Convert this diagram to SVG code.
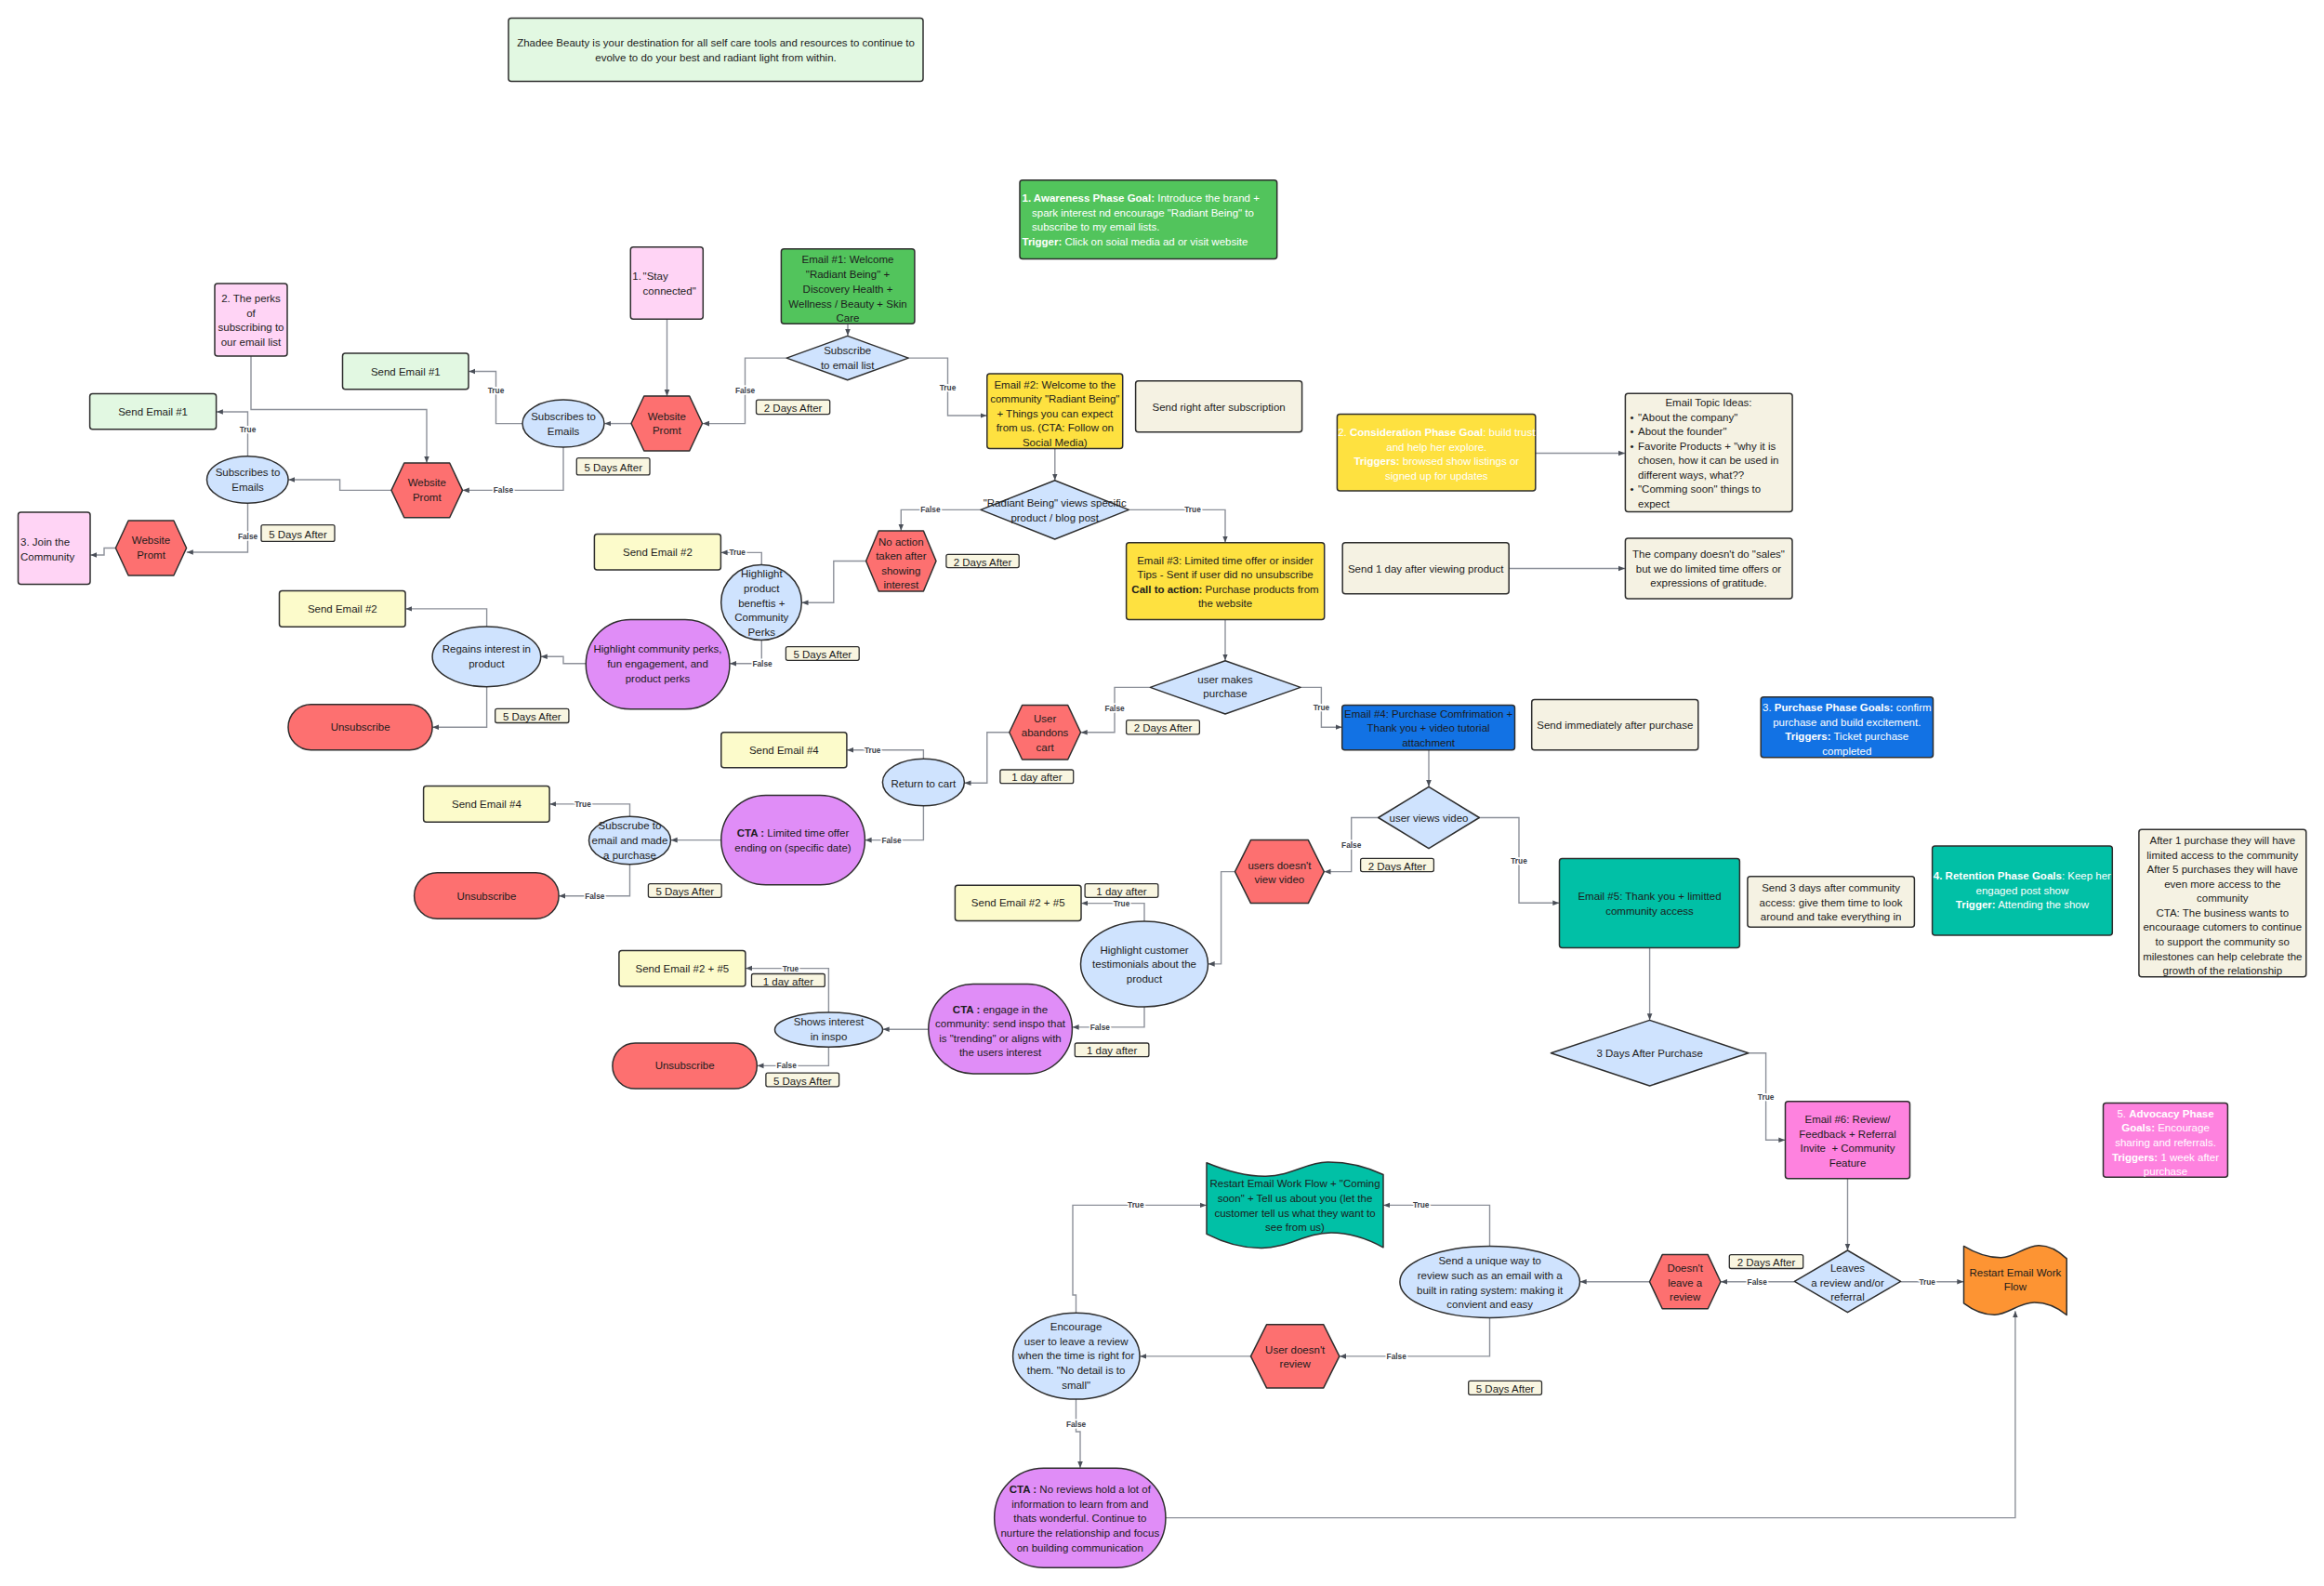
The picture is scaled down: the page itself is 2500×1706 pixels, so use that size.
<svg xmlns="http://www.w3.org/2000/svg" width="2500" height="1706" viewBox="0 0 2500 1706">
<defs>
<style>
.t{font-family:"Liberation Sans",Arial,sans-serif;font-size:11.5px;fill:#1c1c1c;dominant-baseline:central;text-anchor:middle}
.tl{text-anchor:start}
.w{fill:#ffffff}
.bd{font-weight:bold}
.s{stroke:#2e2e2e;stroke-width:1.5;stroke-linejoin:round}
.lg{fill:#e2f8e2}.pk{fill:#ffd4f5}.gr{fill:#52c45c}.yl{fill:#fee140}.rd{fill:#fd7070}.bl{fill:#cfe3fe}
.pu{fill:#e08df7}.nb{fill:#1272e4}.tl2{fill:#01c0a6}.mg{fill:#fe82df}.or{fill:#fd9433}.ly{fill:#fcfbcb}.cr{fill:#f5f2e3}
.c{fill:none;stroke:#8d919a;stroke-width:1.4;marker-end:url(#arr)}
.lb{font-family:"Liberation Sans",Arial,sans-serif;font-size:8.3px;font-weight:bold;fill:#3b4048;text-anchor:middle;dominant-baseline:central;paint-order:stroke;stroke:#ffffff;stroke-width:3px}
.tg{fill:#f9f6e1;stroke:#2e2e2e;stroke-width:1.3}
</style>
<marker id="arr" viewBox="0 0 10 10" refX="10" refY="5" markerWidth="7" markerHeight="7" markerUnits="userSpaceOnUse" orient="auto"><path d="M0,1 L10,5 L0,9 z" fill="#4a4f58"/></marker>
</defs>
<rect width="2500" height="1706" fill="#ffffff"/>

<g id="connectors">
<path class="c" d="M912,348.3 V361"/>
<path class="c" d="M846.2,385.1 H801.5 V455.6 H756"/>
<path class="c" d="M977.2,385.1 H1019.5 V447 H1061.5"/>
<path class="c" d="M717.5,343.5 V426"/>
<path class="c" d="M679,455.6 H650.3"/>
<path class="c" d="M562,455.6 H533.5 V399.5 H504.3"/>
<path class="c" d="M606,481 V527.4 H497.8"/>
<path class="c" d="M270,383 V440.5 H459 V497.8"/>
<path class="c" d="M421,527.4 H365.6 V516 H310.3"/>
<path class="c" d="M266.5,490.7 V443 H232.9"/>
<path class="c" d="M266.5,541.2 V594 H200.8"/>
<path class="c" d="M124.4,589.5 H112 V597 H97.3"/>
<path class="c" d="M1134.8,482.4 V516.6"/>
<path class="c" d="M1055,548.4 H969.3 V570.8"/>
<path class="c" d="M1214.3,548.4 H1318 V583.6"/>
<path class="c" d="M1651.8,487.5 H1748"/>
<path class="c" d="M1623.2,611.5 H1748"/>
<path class="c" d="M931.6,603.5 H896.8 V648.2 H862.5"/>
<path class="c" d="M819.3,607.5 V594.4 H775.6"/>
<path class="c" d="M819.3,688.5 V713.8 H785.1"/>
<path class="c" d="M630.3,713.8 H606 V706.3 H581.8"/>
<path class="c" d="M523.6,673.9 V654.9 H436.3"/>
<path class="c" d="M523.6,738.7 V782.2 H465.3"/>
<path class="c" d="M1318,666.4 V710.5"/>
<path class="c" d="M1237.3,739.4 H1199 V787.8 H1162.7"/>
<path class="c" d="M1399,739.4 H1421.4 V782.2 H1443.5"/>
<path class="c" d="M1085.8,787.8 H1061.8 V842.3 H1037.5"/>
<path class="c" d="M993.4,816.2 V806.7 H911.1"/>
<path class="c" d="M993.4,866.8 V903.6 H930.6"/>
<path class="c" d="M775.8,903.6 H721.7"/>
<path class="c" d="M677.5,878.3 V864.9 H591.3"/>
<path class="c" d="M677.5,929.7 V963.7 H601.3"/>
<path class="c" d="M1537,806.8 V846.1"/>
<path class="c" d="M1482.7,879.5 H1453.7 V937.6 H1424.5"/>
<path class="c" d="M1591.3,879.5 H1634 V971.3 H1677.3"/>
<path class="c" d="M1328.5,937.6 H1313.6 V1036.9 H1299.7"/>
<path class="c" d="M1231,991 V971.6 H1163.2"/>
<path class="c" d="M1231,1083 V1104.9 H1153.6"/>
<path class="c" d="M998.8,1107.2 H949.7"/>
<path class="c" d="M891.4,1089 V1041.6 H802.1"/>
<path class="c" d="M891.4,1126.2 V1146.4 H814.5"/>
<path class="c" d="M1774.6,1019.5 V1097.2"/>
<path class="c" d="M1880.8,1132.7 H1899.6 V1226.3 H1920.3"/>
<path class="c" d="M1987.5,1267.8 V1344.8"/>
<path class="c" d="M1930.4,1378.7 H1851.1"/>
<path class="c" d="M2044.6,1378.7 H2112.3"/>
<path class="c" d="M1774.5,1378.7 H1699.7"/>
<path class="c" d="M1602.5,1340.4 V1296.4 H1488.2"/>
<path class="c" d="M1602.5,1417.4 V1458.9 H1441"/>
<path class="c" d="M1345.5,1458.9 H1226.2"/>
<path class="c" d="M1157.5,1412.3 V1393 H1154 V1296.4 H1297.8"/>
<path class="c" d="M1157.5,1505 V1540 H1162 V1579"/>
<path class="c" d="M1253.9,1632.6 H2167.9 V1410.2"/>
<text class="lb" x="801.5" y="420">False</text>
<text class="lb" x="1019.5" y="417">True</text>
<text class="lb" x="533.5" y="419.5">True</text>
<text class="lb" x="541.4" y="527.4">False</text>
<text class="lb" x="266.5" y="462">True</text>
<text class="lb" x="266.5" y="577">False</text>
<text class="lb" x="1000.9" y="548.4">False</text>
<text class="lb" x="1283" y="548.4">True</text>
<text class="lb" x="793.2" y="594.4">True</text>
<text class="lb" x="820" y="713.8">False</text>
<text class="lb" x="1199" y="762">False</text>
<text class="lb" x="1421.4" y="761">True</text>
<text class="lb" x="938.7" y="806.7">True</text>
<text class="lb" x="959" y="903.6">False</text>
<text class="lb" x="627" y="864.9">True</text>
<text class="lb" x="639.8" y="963.7">False</text>
<text class="lb" x="1453.7" y="908.8">False</text>
<text class="lb" x="1634" y="925.8">True</text>
<text class="lb" x="1206.5" y="971.6">True</text>
<text class="lb" x="1183.3" y="1104.9">False</text>
<text class="lb" x="850.4" y="1041.6">True</text>
<text class="lb" x="846.2" y="1146.4">False</text>
<text class="lb" x="1899.6" y="1179.6">True</text>
<text class="lb" x="1890.2" y="1378.7">False</text>
<text class="lb" x="2073.2" y="1378.7">True</text>
<text class="lb" x="1528.7" y="1296.4">True</text>
<text class="lb" x="1502.2" y="1458.9">False</text>
<text class="lb" x="1221.8" y="1296.4">True</text>
<text class="lb" x="1157.5" y="1531.7">False</text>
</g>

<g id="n-intro"><rect class="s lg" x="547" y="19.5" width="446" height="68" rx="3"/>
<text class="t" x="770" y="46.3">Zhadee Beauty is your destination for all self care tools and resources to continue to</text>
<text class="t" x="770" y="62.1">evolve to do your best and radiant light from within.</text></g>

<g id="n-perks"><rect class="s pk" x="231" y="305" width="78" height="78" rx="3"/>
<text class="t" x="270" y="321">2. The perks</text><text class="t" x="270" y="337">of</text><text class="t" x="270" y="352">subscribing to</text><text class="t" x="270" y="368">our email list</text></g>

<g id="n-stay"><rect class="s pk" x="678.3" y="265.7" width="78" height="77.5" rx="3"/>
<text class="t tl" x="680.3" y="297.3">1.</text><text class="t tl" x="691.6" y="297.3">"Stay</text><text class="t tl" x="691.6" y="313">connected"</text></g>

<g id="n-join"><rect class="s pk" x="19.5" y="551" width="77.5" height="77.5" rx="3"/>
<text class="t tl" x="22" y="583">3. Join the</text><text class="t tl" x="22" y="598.6">Community</text></g>

<g id="n-send1a"><rect class="s lg" x="96.6" y="423.5" width="136" height="38.3" rx="3"/><text class="t" x="164.6" y="443">Send Email #1</text></g>
<g id="n-send1b"><rect class="s lg" x="368.5" y="380" width="135.5" height="38.7" rx="3"/><text class="t" x="436.3" y="399.5">Send Email #1</text></g>

<g id="n-subsA"><ellipse class="s bl" cx="266.3" cy="516" rx="43.8" ry="25.2"/><text class="t" x="266.5" y="508.2">Subscribes to</text><text class="t" x="266.5" y="524">Emails</text></g>
<g id="n-subsB"><ellipse class="s bl" cx="606" cy="455.6" rx="44" ry="25.5"/><text class="t" x="606" y="448">Subscribes to</text><text class="t" x="606" y="463.8">Emails</text></g>

<g id="n-promtA"><polygon class="s rd" points="679,455.5 692.8,426 741.7,426 755.5,455.5 741.7,485 692.8,485"/><text class="t" x="717.3" y="447.6">Website</text><text class="t" x="717.3" y="463.4">Promt</text></g>
<g id="n-promtB"><polygon class="s rd" points="421,527.4 434.8,498 483.7,498 497.5,527.4 483.7,556.7 434.8,556.7"/><text class="t" x="459.3" y="519.2">Website</text><text class="t" x="459.3" y="535">Promt</text></g>
<g id="n-promtC"><polygon class="s rd" points="124.4,589.5 138.1,560 186.9,560 200.6,589.5 186.9,619 138.1,619"/><text class="t" x="162.5" y="581.2">Website</text><text class="t" x="162.5" y="597">Promt</text></g>

<g id="n-email1"><rect class="s gr" x="840.4" y="267.7" width="143.5" height="80.6" rx="3"/>
<text class="t" x="912" y="279">Email #1: Welcome</text><text class="t" x="912" y="295">"Radiant Being" +</text><text class="t" x="912" y="310.8">Discovery Health +</text><text class="t" x="912" y="326.6">Wellness / Beauty + Skin</text><text class="t" x="912" y="342">Care</text></g>

<g id="n-subscribe"><polygon class="s bl" points="846.2,385.1 911.7,361.4 977.2,385.1 911.7,408.8"/><text class="t" x="911.7" y="376.8">Subscribe</text><text class="t" x="911.7" y="392.6">to email list</text></g>

<g id="n-aware"><rect class="s gr" x="1097" y="193.7" width="276.7" height="84.7" rx="3"/>
<text class="t tl w" x="1099.5" y="213"><tspan class="bd">1. Awareness Phase Goal:</tspan> Introduce the brand +</text>
<text class="t tl w" x="1110" y="228.5">spark interest nd encourage "Radiant Being" to</text>
<text class="t tl w" x="1110" y="244">subscribe to my email lists.</text>
<text class="t tl w" x="1099.5" y="259.8"><tspan class="bd">Trigger:</tspan> Click on soial media ad or visit website</text></g>

<g id="n-email2"><rect class="s yl" x="1061.8" y="402" width="145.9" height="80.4" rx="3"/>
<text class="t" x="1134.8" y="413.6">Email #2: Welcome to the</text><text class="t" x="1134.8" y="429.4">community "Radiant Being"</text><text class="t" x="1134.8" y="444.8">+ Things you can expect</text><text class="t" x="1134.8" y="460.3">from us. (CTA: Follow on</text><text class="t" x="1134.8" y="476">Social Media)</text></g>

<g id="n-note-sub"><rect class="s cr" x="1221.6" y="409.8" width="179" height="54.9" rx="3"/><text class="t" x="1311.1" y="437.5">Send right after subscription</text></g>

<g id="n-radiant"><polygon class="s bl" points="1055,548.4 1134.7,516.8 1214.3,548.4 1134.7,580"/><text class="t" x="1134.7" y="540.9">"Radiant Being" views specific</text><text class="t" x="1134.7" y="556.7">product / blog post</text></g>

<g id="n-noaction"><polygon class="s rd" points="931.6,603.5 945.2,571 993.4,571 1007,603.5 993.4,636 945.2,636"/>
<text class="t" x="969.3" y="582.5">No action</text><text class="t" x="969.3" y="598.4">taken after</text><text class="t" x="969.3" y="613.8">showing</text><text class="t" x="969.3" y="629.2">interest</text></g>

<g id="n-consider"><rect class="s yl" x="1438.4" y="445.4" width="213.4" height="82.6" rx="3"/>
<text class="t w" x="1545.3" y="464.7">2. <tspan class="bd">Consideration Phase Goal</tspan>: build trust</text>
<text class="t w" x="1545.3" y="480.6">and help her explore.</text>
<text class="t w" x="1545.3" y="496"><tspan class="bd">Triggers:</tspan> browsed show listings or</text>
<text class="t w" x="1545.3" y="511.8">signed up for updates</text></g>

<g id="n-topics"><rect class="s cr" x="1748.4" y="423.2" width="179.7" height="127.3" rx="3"/>
<text class="t" x="1838" y="432.7">Email Topic Ideas:</text>
<text class="t tl" x="1753.5" y="448.5">•</text><text class="t tl" x="1762" y="448.5">"About the company"</text>
<text class="t tl" x="1753.5" y="464">•</text><text class="t tl" x="1762" y="464">About the founder"</text>
<text class="t tl" x="1753.5" y="479.8">•</text><text class="t tl" x="1762" y="479.8">Favorite Products + "why it is</text>
<text class="t tl" x="1762" y="495.2">chosen, how it can be used in</text>
<text class="t tl" x="1762" y="511">different ways, what??</text>
<text class="t tl" x="1753.5" y="526.4">•</text><text class="t tl" x="1762" y="526.4">"Comming soon" things to</text>
<text class="t tl" x="1762" y="542.2">expect</text></g>

<g id="n-email3"><rect class="s yl" x="1211.6" y="583.8" width="213.1" height="82.6" rx="3"/>
<text class="t" x="1318" y="602.7">Email #3: Limited time offer or insider</text>
<text class="t" x="1318" y="618.2">Tips - Sent if user did no unsubscribe</text>
<text class="t" x="1318" y="634"><tspan class="bd">Call to action:</tspan> Purchase products from</text>
<text class="t" x="1318" y="649.4">the website</text></g>

<g id="n-note-1day"><rect class="s cr" x="1444.2" y="583.8" width="179" height="54.9" rx="3"/><text class="t" x="1533.7" y="611.8">Send 1 day after viewing product</text></g>

<g id="n-company"><rect class="s cr" x="1748.4" y="579" width="179.6" height="64.9" rx="3"/>
<text class="t" x="1838" y="596">The company doesn't do "sales"</text><text class="t" x="1838" y="611.5">but we do limited time offers or</text><text class="t" x="1838" y="627.3">expressions of gratitude.</text></g>

<g id="n-send2a"><rect class="s ly" x="639.4" y="574.6" width="136" height="38.4" rx="3"/><text class="t" x="707.4" y="593.8">Send Email #2</text></g>
<g id="n-highlight"><ellipse class="s bl" cx="819" cy="648" rx="43.3" ry="40.5"/>
<text class="t" x="819.3" y="617.3">Highlight</text><text class="t" x="819.3" y="633.2">product</text><text class="t" x="819.3" y="648.6">beneftis +</text><text class="t" x="819.3" y="664.4">Community</text><text class="t" x="819.3" y="679.8">Perks</text></g>

<g id="n-perksP"><rect class="s pu" x="630.3" y="666.4" width="154.6" height="96.4" rx="48"/>
<text class="t" x="707.5" y="698.4">Highlight community perks,</text><text class="t" x="707.5" y="714.2">fun engagement, and</text><text class="t" x="707.5" y="729.6">product perks</text></g>

<g id="n-send2b"><rect class="s ly" x="300.5" y="635.5" width="135.6" height="38.8" rx="3"/><text class="t" x="368.3" y="655">Send Email #2</text></g>
<g id="n-regains"><ellipse class="s bl" cx="523.4" cy="706.3" rx="58.3" ry="32.4"/><text class="t" x="523.4" y="698.4">Regains interest in</text><text class="t" x="523.4" y="714.2">product</text></g>
<g id="n-unsub1"><rect class="s rd" x="310" y="757.7" width="155.1" height="49" rx="24.5"/><text class="t" x="387.6" y="782.2">Unsubscribe</text></g>

<g id="n-purchase"><polygon class="s bl" points="1237.3,739.4 1318,710.7 1399,739.4 1318,768"/><text class="t" x="1318" y="730.8">user makes</text><text class="t" x="1318" y="746.3">purchase</text></g>

<g id="n-abandon"><polygon class="s rd" points="1085.8,787.8 1099.6,758.5 1148.7,758.5 1162.5,787.8 1148.7,817 1099.6,817"/>
<text class="t" x="1124.1" y="772.7">User</text><text class="t" x="1124.1" y="788.2">abandons</text><text class="t" x="1124.1" y="804">cart</text></g>

<g id="n-return"><ellipse class="s bl" cx="993.4" cy="841.5" rx="44" ry="25.3"/><text class="t" x="993.4" y="843">Return to cart</text></g>
<g id="n-send4a"><rect class="s ly" x="775.8" y="787.8" width="135.1" height="37.9" rx="3"/><text class="t" x="843.3" y="806.7">Send Email #4</text></g>

<g id="n-ctaLimited"><rect class="s pu" x="775.8" y="855.4" width="154.6" height="96.4" rx="48"/>
<text class="t" x="853" y="896.1"><tspan class="bd">CTA :</tspan> Limited time offer</text><text class="t" x="853" y="911.9">ending on (specific date)</text></g>

<g id="n-subPurch"><ellipse class="s bl" cx="677.5" cy="904" rx="44" ry="25.7"/>
<text class="t" x="677.5" y="888.2">Subscrube to</text><text class="t" x="677.5" y="904">email and made</text><text class="t" x="677.5" y="919.8">a purchase</text></g>

<g id="n-send4b"><rect class="s ly" x="455.6" y="845.5" width="135.5" height="38.7" rx="3"/><text class="t" x="523.4" y="864.9">Send Email #4</text></g>
<g id="n-unsub2"><rect class="s rd" x="445.6" y="938.8" width="155.5" height="49.4" rx="24.7"/><text class="t" x="523.4" y="963.5">Unsubscribe</text></g>

<g id="n-email4"><rect class="s nb" x="1443.7" y="758.5" width="185.8" height="48.3" rx="3"/>
<text class="t" x="1536.6" y="767.6">Email #4: Purchase Comfrimation +</text><text class="t" x="1536.6" y="783.4">Thank you + video tutorial</text><text class="t" x="1536.6" y="798.9">attachment</text></g>

<g id="n-note-imm"><rect class="s cr" x="1647.7" y="752.6" width="179.1" height="54.2" rx="3"/><text class="t" x="1737.3" y="780.3">Send immediately after purchase</text></g>

<g id="n-purchGoal"><rect class="s nb" x="1894.2" y="749.8" width="185.3" height="64.9" rx="3"/>
<text class="t w" x="1986.8" y="760.9">3. <tspan class="bd">Purchase Phase Goals:</tspan> confirm</text>
<text class="t w" x="1986.8" y="776.7">purchase and build excitement.</text>
<text class="t w" x="1986.8" y="792.1"><tspan class="bd">Triggers:</tspan> Ticket purchase</text>
<text class="t w" x="1986.8" y="808">completed</text></g>

<g id="n-video"><polygon class="s bl" points="1482.7,879.5 1537,846.3 1591.3,879.5 1537,912.7"/><text class="t" x="1537" y="880.3">user views video</text></g>

<g id="n-noVideo"><polygon class="s rd" points="1328.5,937.6 1345.5,903.6 1407.3,903.6 1424.3,937.6 1407.3,971.6 1345.5,971.6"/>
<text class="t" x="1376.4" y="931">users doesn't</text><text class="t" x="1376.4" y="946.3">view video</text></g>

<g id="n-email5"><rect class="s tl2" x="1677.5" y="923.4" width="193.9" height="96.1" rx="3"/>
<text class="t" x="1774.5" y="964.1">Email #5: Thank you + limitted</text><text class="t" x="1774.5" y="980">community access</text></g>

<g id="n-note-3days"><rect class="s cr" x="1879.9" y="942.8" width="179.5" height="54.5" rx="3"/>
<text class="t" x="1969.6" y="955">Send 3 days after community</text><text class="t" x="1969.6" y="970.5">access: give them time to look</text><text class="t" x="1969.6" y="986.3">around and take everything in</text></g>

<g id="n-retention"><rect class="s tl2" x="2078.6" y="910" width="193.7" height="96" rx="3"/>
<text class="t w" x="2175.4" y="942"><tspan class="bd">4. Retention Phase Goals</tspan>: Keep her</text>
<text class="t w" x="2175.4" y="957.8">engaged post show</text>
<text class="t w" x="2175.4" y="973.2"><tspan class="bd">Trigger:</tspan> Attending the show</text></g>

<g id="n-after1"><rect class="s cr" x="2300.9" y="892.2" width="179.9" height="158.5" rx="3"/>
<text class="t" x="2390.8" y="903.6">After 1 purchase they will have</text>
<text class="t" x="2390.8" y="919.5">limited access to the community</text>
<text class="t" x="2390.8" y="934.9">After 5 purchases they will have</text>
<text class="t" x="2390.8" y="950.7">even more access to the</text>
<text class="t" x="2390.8" y="966.1">community</text>
<text class="t" x="2390.8" y="981.9">CTA: The business wants to</text>
<text class="t" x="2390.8" y="997.4">encouraage cutomers to continue</text>
<text class="t" x="2390.8" y="1013.2">to support the community so</text>
<text class="t" x="2390.8" y="1029">milestones can help celebrate the</text>
<text class="t" x="2390.8" y="1044.4">growth of the relationship</text></g>

<g id="n-send25a"><rect class="s ly" x="1027.4" y="952.2" width="135.6" height="38.4" rx="3"/><text class="t" x="1095.2" y="971.4">Send Email #2 + #5</text></g>
<g id="n-testimonials"><ellipse class="s bl" cx="1231" cy="1037" rx="68.5" ry="46"/>
<text class="t" x="1231" y="1021.9">Highlight customer</text><text class="t" x="1231" y="1037.3">testimonials about the</text><text class="t" x="1231" y="1053.1">product</text></g>

<g id="n-ctaEngage"><rect class="s pu" x="998.8" y="1058.6" width="154.6" height="96.4" rx="48"/>
<text class="t" x="1076" y="1085.5"><tspan class="bd">CTA :</tspan> engage in the</text>
<text class="t" x="1076" y="1100.9">community: send inspo that</text>
<text class="t" x="1076" y="1116.7">is "trending" or aligns with</text>
<text class="t" x="1076" y="1132.2">the users interest</text></g>

<g id="n-inspo"><ellipse class="s bl" cx="891.5" cy="1107.6" rx="58" ry="18.6"/><text class="t" x="891.5" y="1099.3">Shows interest</text><text class="t" x="891.5" y="1115.2">in inspo</text></g>
<g id="n-send25b"><rect class="s ly" x="665.9" y="1022.6" width="136" height="38.4" rx="3"/><text class="t" x="733.9" y="1041.8">Send Email #2 + #5</text></g>
<g id="n-unsub3"><rect class="s rd" x="658.9" y="1122" width="155.4" height="49.1" rx="24.5"/><text class="t" x="736.6" y="1146.4">Unsubscribe</text></g>

<g id="n-3days"><polygon class="s bl" points="1668.4,1132.7 1774.6,1097.4 1880.8,1132.7 1774.6,1168"/><text class="t" x="1774.6" y="1133">3 Days After Purchase</text></g>

<g id="n-email6"><rect class="s mg" x="1920.5" y="1184.8" width="134" height="83" rx="3"/>
<text class="t" x="1987.5" y="1203.7">Email #6: Review/</text><text class="t" x="1987.5" y="1219.5">Feedback + Referral</text><text class="t" x="1987.5" y="1235">Invite&#160; + Community</text><text class="t" x="1987.5" y="1250.8">Feature</text></g>

<g id="n-advocacy"><rect class="s mg" x="2262.5" y="1186.4" width="133.9" height="79.8" rx="3"/>
<text class="t w" x="2329.5" y="1197.8">5. <tspan class="bd">Advocacy Phase</tspan></text>
<text class="t w" x="2329.5" y="1213.2"><tspan class="bd">Goals:</tspan> Encourage</text>
<text class="t w" x="2329.5" y="1229">sharing and referrals.</text>
<text class="t w" x="2329.5" y="1244.9"><tspan class="bd">Triggers:</tspan> 1 week after</text>
<text class="t w" x="2329.5" y="1260.3">purchase</text></g>

<g id="n-leaves"><polygon class="s bl" points="1930.4,1378.4 1987.5,1345 2044.6,1378.4 1987.5,1411.7"/>
<text class="t" x="1987.5" y="1364.2">Leaves</text><text class="t" x="1987.5" y="1379.8">a review and/or</text><text class="t" x="1987.5" y="1395.4">referral</text></g>

<g id="n-restartOrange"><path class="s or" d="M2112.5,1340.4 C2125,1348 2138,1353 2152.7,1352.8 C2168,1352.5 2178,1340 2192.9,1339.7 C2205,1339.5 2215,1346 2223.2,1353.9 L2223.2,1414.5 C2213,1406 2200,1401 2188.4,1401 C2172,1401 2160,1414 2146,1414.2 C2132,1414.4 2122,1409 2112.5,1401.8 Z"/>
<text class="t" x="2167.9" y="1368.8">Restart Email Work</text><text class="t" x="2167.9" y="1384.4">Flow</text></g>

<g id="n-noReview"><polygon class="s rd" points="1774.5,1378.7 1788.2,1349.6 1837.2,1349.6 1850.9,1378.7 1837.2,1407.8 1788.2,1407.8"/>
<text class="t" x="1812.7" y="1364.2">Doesn't</text><text class="t" x="1812.7" y="1379.8">leave a</text><text class="t" x="1812.7" y="1395.4">review</text></g>

<g id="n-unique"><ellipse class="s bl" cx="1602.7" cy="1378.9" rx="96.8" ry="38.5"/>
<text class="t" x="1602.7" y="1356.4">Send a unique way to</text><text class="t" x="1602.7" y="1372">review such as an email with a</text><text class="t" x="1602.7" y="1387.6">built in rating system: making it</text><text class="t" x="1602.7" y="1403.2">convient and easy</text></g>

<g id="n-restartTeal"><path class="s tl2" d="M1298,1250.7 C1318,1259 1340,1265.5 1361.7,1265.2 C1390,1264.8 1405,1250.2 1428,1250 C1450,1249.8 1472,1256 1488,1263.5 L1488,1341.8 C1472,1333 1452,1326 1432,1326 C1405,1326 1385,1342.3 1357.5,1342.5 C1335,1342.7 1315,1336 1298,1327.3 Z"/>
<text class="t" x="1393" y="1273.4">Restart Email Work Flow + "Coming</text><text class="t" x="1393" y="1289">soon" + Tell us about you (let the</text><text class="t" x="1393" y="1304.6">customer tell us what they want to</text><text class="t" x="1393" y="1320.2">see from us)</text></g>

<g id="n-userNoReview"><polygon class="s rd" points="1345.5,1458.9 1362.5,1424.8 1423.8,1424.8 1440.8,1458.9 1423.8,1492.9 1362.5,1492.9"/>
<text class="t" x="1393.2" y="1451.8">User doesn't</text><text class="t" x="1393.2" y="1467.4">review</text></g>

<g id="n-encourage"><ellipse class="s bl" cx="1157.8" cy="1458.7" rx="68.2" ry="46.4"/>
<text class="t" x="1157.6" y="1427.3">Encourage</text><text class="t" x="1157.6" y="1442.8">user to leave a review</text><text class="t" x="1157.6" y="1458.3">when the time is right for</text><text class="t" x="1157.6" y="1473.7">them. "No detail is to</text><text class="t" x="1157.6" y="1489.6">small"</text></g>

<g id="n-ctaNoReviews"><rect class="s pu" x="1069.7" y="1579.2" width="184.2" height="107.1" rx="53"/>
<text class="t" x="1161.8" y="1602"><tspan class="bd">CTA :</tspan> No reviews hold a lot of</text>
<text class="t" x="1161.8" y="1617.5">information to learn from and</text>
<text class="t" x="1161.8" y="1633.3">thats wonderful. Continue to</text>
<text class="t" x="1161.8" y="1648.8">nurture the relationship and focus</text>
<text class="t" x="1161.8" y="1664.6">on building communication</text></g>

<g id="tags">
<g id="tag1"><rect class="tg" x="281" y="564.6" width="79" height="17.8" rx="2"/><text class="t" x="320.5" y="574.5">5 Days After</text></g>
<g id="tag2"><rect class="tg" x="620.3" y="492.7" width="78.7" height="18.2" rx="2"/><text class="t" x="659.7" y="502.8">5 Days After</text></g>
<g id="tag3"><rect class="tg" x="813.5" y="430.2" width="79.2" height="15.4" rx="2"/><text class="t" x="853.1" y="439">2 Days After</text></g>
<g id="tag4"><rect class="tg" x="1017.9" y="596.4" width="78.3" height="14.2" rx="2"/><text class="t" x="1057" y="604.6">2 Days After</text></g>
<g id="tag5"><rect class="tg" x="845.4" y="695.6" width="78.8" height="14.7" rx="2"/><text class="t" x="884.8" y="704">5 Days After</text></g>
<g id="tag6"><rect class="tg" x="532.7" y="762.4" width="79.2" height="15.1" rx="2"/><text class="t" x="572.3" y="771">5 Days After</text></g>
<g id="tag7"><rect class="tg" x="1211.6" y="774.7" width="78.8" height="15.1" rx="2"/><text class="t" x="1251" y="783.3">2 Days After</text></g>
<g id="tag8"><rect class="tg" x="1075.9" y="828" width="78.8" height="14.7" rx="2"/><text class="t" x="1115.3" y="836.4">1 day after</text></g>
<g id="tag9"><rect class="tg" x="697.4" y="950.7" width="78.8" height="14.6" rx="2"/><text class="t" x="736.8" y="959">5 Days After</text></g>
<g id="tag10"><rect class="tg" x="1463.6" y="923.4" width="78.8" height="14.2" rx="2"/><text class="t" x="1503" y="931.6">2 Days After</text></g>
<g id="tag11"><rect class="tg" x="1167.1" y="950.7" width="78.8" height="14.6" rx="2"/><text class="t" x="1206.5" y="959">1 day after</text></g>
<g id="tag12"><rect class="tg" x="808.5" y="1047.5" width="78.8" height="13.9" rx="2"/><text class="t" x="847.9" y="1055.5">1 day after</text></g>
<g id="tag13"><rect class="tg" x="1156.3" y="1122" width="79.6" height="14.7" rx="2"/><text class="t" x="1196.1" y="1130.4">1 day after</text></g>
<g id="tag14"><rect class="tg" x="823.9" y="1154.1" width="78.7" height="14.7" rx="2"/><text class="t" x="863.3" y="1162.5">5 Days After</text></g>
<g id="tag15"><rect class="tg" x="1860.3" y="1349.6" width="79.4" height="14.9" rx="2"/><text class="t" x="1900" y="1358">2 Days After</text></g>
<g id="tag16"><rect class="tg" x="1579.7" y="1485.4" width="78.8" height="14.9" rx="2"/><text class="t" x="1619.1" y="1493.8">5 Days After</text></g>
</g>
</svg>
